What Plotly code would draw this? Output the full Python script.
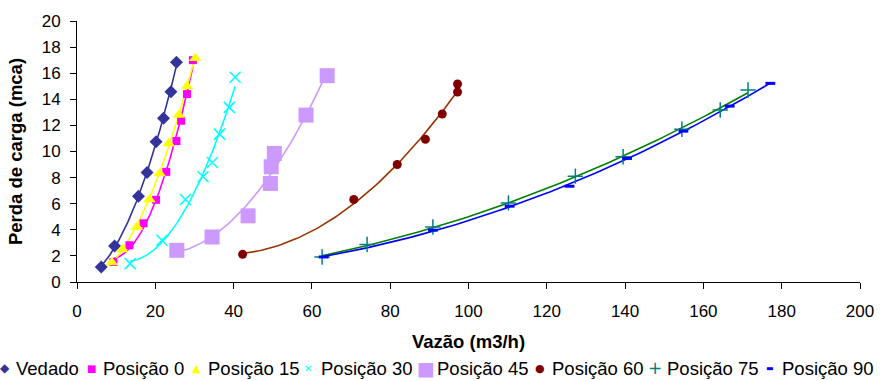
import numpy as np
import plotly.graph_objects as go

# ---- data ----
vedado_x = [6.2, 9.6, 15.7, 17.9, 20.2, 22.1, 24.0, 25.4]
vedado_y = [1.15, 2.76, 6.58, 8.4, 10.75, 12.54, 14.58, 16.84]

p0_x = [9.3, 13.4, 17.0, 20.2, 22.8, 25.4, 26.6, 28.1, 29.6]
p0_y = [1.53, 2.82, 4.5, 6.3, 8.44, 10.8, 12.36, 14.4, 17.0]

p15_x = [8.9, 11.6, 15.3, 18.5, 21.1, 23.4, 26.0, 28.1, 30.2]
p15_y = [1.49, 2.49, 4.22, 6.32, 8.32, 10.62, 12.8, 15.0, 17.15]

p30_x = [13.6, 21.7, 27.7, 32.2, 34.6, 36.4, 38.9, 40.4]
p30_y = [1.41, 3.2, 6.32, 8.06, 9.16, 11.33, 13.38, 15.69]

p45_x = [25.5, 34.5, 43.7, 49.4, 49.6, 50.4, 58.5, 63.9]
p45_y = [2.43, 3.45, 5.07, 7.55, 8.83, 9.85, 12.79, 15.81]

p60_x = [42.3, 70.7, 81.8, 89.0, 93.3, 97.2, 97.2]
p60_y = [2.12, 6.32, 9.0, 10.93, 12.87, 14.56, 15.17]

p75_x = [62.6, 74.1, 90.9, 110.2, 127.3, 139.5, 154.5, 164.3, 171.4]
p75_y = [1.92, 2.87, 4.22, 6.06, 8.11, 9.6, 11.7, 13.18, 14.71]

p90_x = [63.0, 90.9, 110.5, 125.8, 140.5, 154.9, 166.7, 177.1]
p90_y = [1.92, 3.97, 5.81, 7.34, 9.47, 11.56, 13.48, 15.22]

names = ["Vedado", "Posição 0", "Posição 15", "Posição 30",
         "Posição 45", "Posição 60", "Posição 75", "Posição 90"]
xs = [vedado_x, p0_x, p15_x, p30_x, p45_x, p60_x, p75_x, p90_x]
ys = [vedado_y, p0_y, p15_y, p30_y, p45_y, p60_y, p75_y, p90_y]

marker_colors = ["#333399", "#FF00FF", "#FFFF00", "#00FFFF",
                 "#CC99FF", "#800000", "#008080", "#0000FF"]
line_colors = ["#333399", "#FF00FF", "#FFFF00", "#00FFFF",
               "#CC99FF", "#993300", "#008000", "#0000FF"]
symbols = ["diamond", "square", "triangle-up", "x-thin-open",
           "square", "circle", "cross-thin-open", "line-ew-open"]
sizes = [10, 8, 11, 11, 15, 9, 11, 7]

fig = go.Figure()

# polynomial (2nd order) trendlines, as in the spreadsheet chart
for x, y, lc in zip(xs, ys, line_colors):
    coef = np.polyfit(x, y, 2)
    xx = np.linspace(min(x), max(x), 80)
    fig.add_trace(go.Scatter(x=xx, y=np.polyval(coef, xx), mode="lines",
                             line=dict(color=lc, width=1.6),
                             showlegend=False, hoverinfo="skip"))

for x, y, n, mc, s, sz in zip(xs, ys, names, marker_colors, symbols, sizes):
    mk = dict(color=mc, symbol=s, size=sz)
    if s.endswith("open"):
        mk["line"] = dict(color=mc, width=1.5 if s != "line-ew-open" else 3)
    fig.add_trace(go.Scatter(x=x, y=y, mode="markers", name=n, marker=mk,
                             showlegend=False))

L, R, T, B = 77, 25, 21, 99
W, H = 885, 381
PW = W - L - R

# legend drawn as text: coloured glyph + label
glyphs = ["◆", "■", "▲", "✕", "■", "●", "+", "▬"]
glyph_sizes = [12, 10, 11, 10, 19, 11, 17, 8]
glyph_px = [5, 91, 196, 308, 426, 540, 655, 770]
text_px = [14, 101, 206, 319, 435, 550, 665, 780]
legend_y = 368
annotations = []
for g, gs, gp, tp, n, mc in zip(glyphs, glyph_sizes, glyph_px, text_px, names, marker_colors):
    annotations.append(dict(text=g, xref="paper", yref="paper",
                            x=(gp - L) / PW, y=(H - B - legend_y) / (H - T - B),
                            xanchor="center", yanchor="middle", showarrow=False,
                            font=dict(family="DejaVu Sans", size=gs, color=mc)))
    annotations.append(dict(text=n, xref="paper", yref="paper",
                            x=(tp - L) / PW, y=(H - B - legend_y) / (H - T - B),
                            xanchor="left", yanchor="middle", showarrow=False,
                            font=dict(family="Liberation Sans, Arial", size=18.5, color="black")))

fig.update_layout(
    width=W, height=H,
    margin=dict(l=L, r=R, t=T, b=B),
    paper_bgcolor="white", plot_bgcolor="white",
    font=dict(family="Liberation Sans, Arial", size=17, color="black"),
    showlegend=False,
    annotations=annotations,
)
fig.update_xaxes(range=[0, 200], dtick=20, tick0=0, showgrid=False, zeroline=False,
                 showline=True, linecolor="black", linewidth=1,
                 ticks="outside", ticklen=6, tickcolor="black",
                 ticklabelstandoff=8,
                 title=dict(text="<b>Vazão (m3/h)</b>", font=dict(size=18.5), standoff=14))
fig.update_yaxes(range=[0, 20], dtick=2, tick0=0, showgrid=False, zeroline=False,
                 showline=True, linecolor="black", linewidth=1,
                 ticks="outside", ticklen=6, tickcolor="black",
                 ticklabelstandoff=6,
                 title=dict(text="<b>Perda de carga (mca)</b>", font=dict(size=18.5), standoff=14))

fig.write_html("out.html")
